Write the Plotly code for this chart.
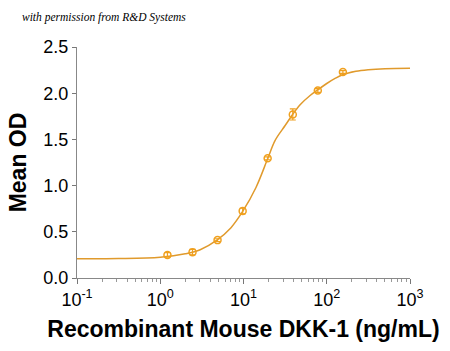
import plotly.graph_objects as go

# Measured data (ng/mL, mean OD, SD)
dose = [1.22, 2.44, 4.88, 9.77, 19.5, 39.1, 78.1, 156.3]
mean_od = [0.25, 0.28, 0.41, 0.725, 1.295, 1.77, 2.03, 2.23]
sd = [0.025, 0.03, 0.015, 0.03, 0.015, 0.06, 0.02, 0.015]

# Fitted curve (log10 dose, OD)
curve_log = [-1.0, -0.5, 0.0, 0.3, 0.48, 0.68, 0.85, 0.99, 1.15, 1.29, 1.38,
             1.5, 1.59, 1.68, 1.8, 1.89, 2.0, 2.1, 2.19, 2.35, 2.5, 2.7, 3.0]
curve_od = [0.208, 0.21, 0.225, 0.262, 0.306, 0.41, 0.545, 0.72, 0.98, 1.29, 1.49,
            1.65, 1.77, 1.875, 1.975, 2.035, 2.105, 2.16, 2.2, 2.237, 2.254, 2.265, 2.27]
curve_dose = [10 ** v for v in curve_log]

x_tickvals = [0.1, 1, 10, 100, 1000]
x_ticktext = ["10<sup>-1</sup>", "10<sup>0</sup>", "10<sup>1</sup>", "10<sup>2</sup>", "10<sup>3</sup>"]
y_tickvals = [0.0, 0.5, 1.0, 1.5, 2.0, 2.5]
y_ticktext = ["0.0", "0.5", "1.0", "1.5", "2.0", "2.5"]

line_color = "#E09A2C"
marker_color = "#F0A01E"

fig = go.Figure()
fig.add_trace(go.Scatter(x=curve_dose, y=curve_od, mode="lines",
                         line=dict(color=line_color, width=1.5, shape="spline"),
                         hoverinfo="skip", showlegend=False))
fig.add_trace(go.Scatter(x=dose, y=mean_od, mode="markers",
                         marker=dict(symbol="circle-open", size=7, color=marker_color,
                                     line=dict(width=1.5, color=marker_color)),
                         error_y=dict(type="data", array=sd, visible=True,
                                      color=marker_color, thickness=1.2, width=3),
                         showlegend=False))

fig.update_layout(
    width=450, height=351,
    margin=dict(l=77, r=40, t=47, b=73),
    paper_bgcolor="white", plot_bgcolor="white",
    font=dict(family="Liberation Sans, Arial, sans-serif", color="black"),
    annotations=[dict(text="<i>with permission from R&amp;D Systems</i>",
                      xref="paper", yref="paper", x=-0.171, y=1.1295,
                      xanchor="left", yanchor="middle", showarrow=False,
                      font=dict(family="Liberation Serif, serif", size=11.5, color="black"))],
)
fig.update_xaxes(
    type="log", range=[-1, 3],
    tickvals=x_tickvals, ticktext=x_ticktext,
    ticks="outside", ticklen=5, tickcolor="#777", tickwidth=1,
    minor=dict(ticks="outside", ticklen=3, tickcolor="#999", dtick="D1", showgrid=False),
    showline=True, linecolor="#888", linewidth=1,
    showgrid=False, zeroline=False,
    tickfont=dict(size=18),
    title=dict(text="<b>Recombinant Mouse DKK-1 (ng/mL)</b>", font=dict(size=23), standoff=12),
)
fig.update_yaxes(
    range=[0, 2.5],
    tickvals=y_tickvals, ticktext=y_ticktext,
    ticks="outside", ticklen=4, tickcolor="#777", tickwidth=1,
    showline=True, linecolor="#888", linewidth=1,
    showgrid=False, zeroline=False,
    tickfont=dict(size=18),
    title=dict(text="<b>Mean OD</b>", font=dict(size=23), standoff=10),
)

fig.write_html("out.html")
